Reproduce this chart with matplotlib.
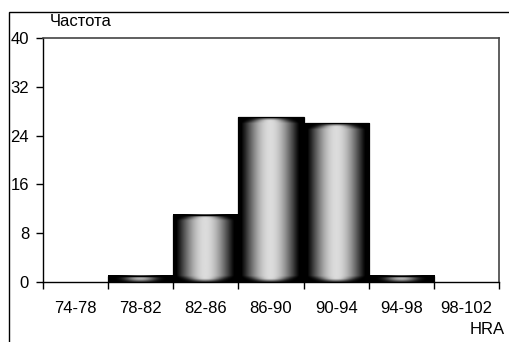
import numpy as np
import matplotlib
matplotlib.use('Agg')
import matplotlib.pyplot as plt
from matplotlib.patches import Rectangle

plt.rcParams['font.family'] = ['Liberation Sans', 'DejaVu Sans']

categories = ['74-78', '78-82', '82-86', '86-90', '90-94', '94-98', '98-102']
counts = [0, 1, 11, 27, 26, 1, 0]

fig = plt.figure(figsize=(5.09, 3.42), dpi=100)
ax = fig.add_axes([43 / 509, 1 - 282 / 342, 456 / 509, 244 / 342])

ymax = 40
px_per_unit = 244 / ymax
fs = 12


def smooth(t):
    t = np.clip(t, 0, 1)
    return t * t * (3 - 2 * t)


def cylinder(height):
    # dark sides, light middle, rounded dark ends
    nx = 65
    ny = max(int(round(height * px_per_unit)), 2)
    u = (np.arange(nx) + 0.5) / nx
    u = np.clip((u - 0.05) / 0.88, 0, 1)
    yy = np.arange(ny) + 0.5
    d = np.minimum(yy, ny - yy)[:, None]
    sharp = 1.1 + 2.5 * (1 - smooth(d / 7.0))
    horiz = np.sin(np.pi * u[None, :]) ** sharp
    vert = 0.35 + 0.65 * smooth(d / 4.0)
    return 0.86 * horiz * vert


for i, c in enumerate(counts):
    if c == 0:
        continue
    ax.imshow(cylinder(c), cmap='gray', vmin=0, vmax=1, aspect='auto',
              extent=(i, i + 1, 0, c), interpolation='bilinear', zorder=2)
    ax.add_patch(Rectangle((i, 0), 1, c, fill=False, ec='black', lw=0.9, zorder=3))

ax.set_xlim(0, len(categories))
ax.set_ylim(0, ymax)
ax.set_yticks(np.arange(0, ymax + 1, 8))
ax.set_xticks(np.arange(len(categories) + 1))
ax.set_xticklabels([])
ax.set_xticks(np.arange(len(categories)) + 0.5, minor=True)
ax.set_xticklabels(categories, minor=True)
ax.tick_params(axis='x', which='major', length=5, width=1, direction='out')
ax.tick_params(axis='x', which='minor', length=0, pad=14, labelsize=fs)
ax.tick_params(axis='y', length=5, width=1, direction='out', pad=5, labelsize=fs)

for s in ['left', 'bottom']:
    ax.spines[s].set_color('black')
    ax.spines[s].set_linewidth(1)
for s in ['top', 'right']:
    ax.spines[s].set_color('#444444')
    ax.spines[s].set_linewidth(1.2)

fig.text(50 / 509, 1 - 21 / 342, 'Частота', fontsize=fs, va='center', ha='left')
fig.text(505 / 509, 1 - 329 / 342, 'HRA', fontsize=fs, va='center', ha='right')

# outer chart frame
fig.add_artist(Rectangle((9 / 509, -0.1), 1.0, 1 - 12 / 342 + 0.1,
                         transform=fig.transFigure, fill=False, ec='black', lw=1))

fig.savefig('out.png', dpi=100)
